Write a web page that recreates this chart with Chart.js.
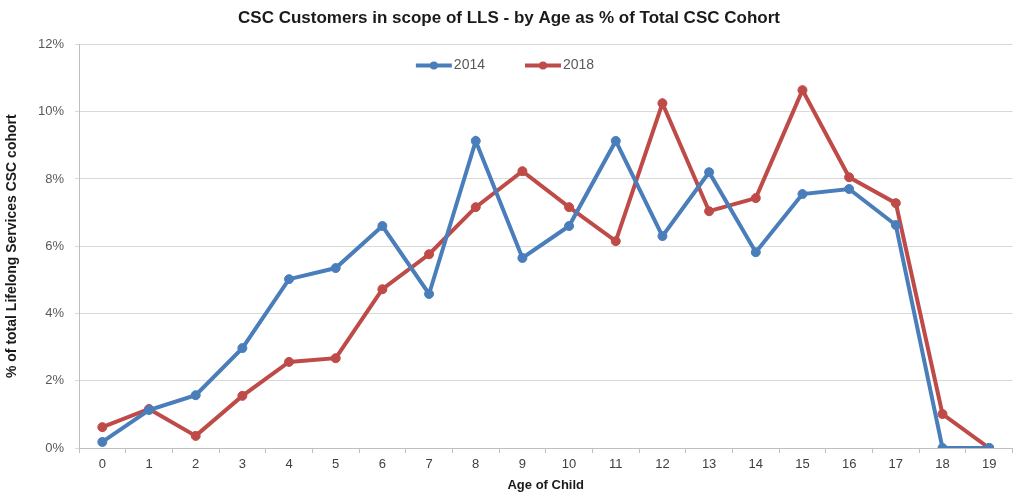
<!DOCTYPE html>
<html>
<head>
<meta charset="utf-8">
<script src="https://cdn.jsdelivr.net/npm/chart.js@4/dist/chart.umd.min.js"></script>
<style>
  html, body { margin: 0; padding: 0; background: #fff; overflow: hidden; }
  #wrap { width: 1018px; height: 493px; }
</style>
</head>
<body>
<div id="wrap"><canvas id="chart"></canvas></div>
<script>
// Age of child (x categories)
const ages = ['0','1','2','3','4','5','6','7','8','9','10','11','12','13','14','15','16','17','18','19'];
// % of total Lifelong Services CSC cohort
const values2014 = [0.18, 1.13, 1.57, 2.97, 5.02, 5.35, 6.6, 4.58, 9.13, 5.65, 6.6, 9.13, 6.3, 8.2, 5.82, 7.55, 7.7, 6.63, 0, 0];
const values2018 = [0.62, 1.16, 0.36, 1.55, 2.56, 2.67, 4.72, 5.76, 7.16, 8.23, 7.16, 6.15, 10.25, 7.04, 7.43, 10.64, 8.05, 7.28, 1.01, 0];
const yTicks = [0, 2, 4, 6, 8, 10, 12];

const BLUE = '#4a7ebb';
const RED = '#be4b48';
const FONT = "'Liberation Sans', Arial, sans-serif";

// Excel-style legend sitting inside the plot, near the top, centred on the canvas
const innerLegend = {
    id: 'innerLegend',
    afterDraw: function (chart) {
        const ctx = chart.ctx;
        const sets = chart.data.datasets;
        const lineW = 36, gap = 2, between = 40;
        ctx.save();
        ctx.font = '14px ' + FONT;
        ctx.textBaseline = 'middle';
        const widths = sets.map(function (ds) { return lineW + gap + ctx.measureText(ds.label).width; });
        const total = widths.reduce(function (a, b) { return a + b; }, 0) + between * (sets.length - 1);
        let x = chart.width / 2 - 4 - total / 2;
        const y = chart.chartArea.top + 21;
        sets.forEach(function (ds, i) {
            ctx.strokeStyle = ds.borderColor;
            ctx.lineWidth = 4;
            ctx.beginPath(); ctx.moveTo(x, y); ctx.lineTo(x + lineW, y); ctx.stroke();
            ctx.fillStyle = ds.borderColor;
            ctx.beginPath(); ctx.arc(x + lineW / 2, y, 4, 0, Math.PI * 2); ctx.fill();
            ctx.fillStyle = '#595959';
            ctx.fillText(ds.label, x + lineW + gap, y);
            x += widths[i] + between;
        });
        ctx.restore();
    },
};

function series(label, data, color) {
    return {
        label: label,
        data: data,
        borderColor: color,
        backgroundColor: color,
        borderWidth: 4,
        pointRadius: 4.5,
        pointBackgroundColor: color,
        pointBorderColor: color,
        pointBorderWidth: 1,
        tension: 0,
    };
}

new Chart(document.getElementById('chart'), {
    type: 'line',
    data: {
        labels: ages,
        datasets: [series('2014', values2014, BLUE), series('2018', values2018, RED)],
    },
    plugins: [innerLegend],
    options: {
        responsive: true,
        maintainAspectRatio: false,
        animation: false,
        layout: { padding: 0 },
        plugins: {
            title: {
                display: true,
                text: 'CSC Customers in scope of LLS - by Age as % of Total CSC Cohort',
                color: '#1a1a1a',
                font: { family: FONT, size: 17, weight: 'bold' },
                padding: { top: 8, bottom: 16 },
            },
            legend: { display: false },
            tooltip: { enabled: false },
        },
        scales: {
            x: {
                offset: true,
                grid: {
                    offset: true,
                    drawOnChartArea: false,
                    drawTicks: true,
                    tickLength: 5,
                    color: '#bfbfbf',
                },
                border: { color: '#bfbfbf' },
                ticks: {
                    color: '#404040',
                    font: { family: FONT, size: 13 },
                    padding: 4,
                    maxRotation: 0,
                },
                title: {
                    display: true,
                    text: 'Age of Child',
                    color: '#1a1a1a',
                    font: { family: FONT, size: 13, weight: 'bold' },
                    padding: { top: 0, bottom: 0 },
                },
                afterFit: function (scale) { scale.height = 45; },
            },
            y: {
                min: 0,
                max: 12,
                afterBuildTicks: function (scale) {
                    scale.ticks = yTicks.map(function (v) { return { value: v }; });
                },
                grid: { color: '#d9d9d9', lineWidth: 1, tickLength: 4 },
                border: { color: '#bfbfbf' },
                ticks: {
                    color: '#595959',
                    font: { family: FONT, size: 13 },
                    padding: 11,
                    callback: function (v) { return v + '%'; },
                },
                title: {
                    display: true,
                    text: '% of total Lifelong Services CSC cohort',
                    color: '#1a1a1a',
                    font: { family: FONT, size: 14, weight: 'bold' },
                    padding: { top: 4, bottom: 10 },
                },
                afterFit: function (scale) { scale.width = 79; },
            },
        },
    },
});
</script>
</body>
</html>
